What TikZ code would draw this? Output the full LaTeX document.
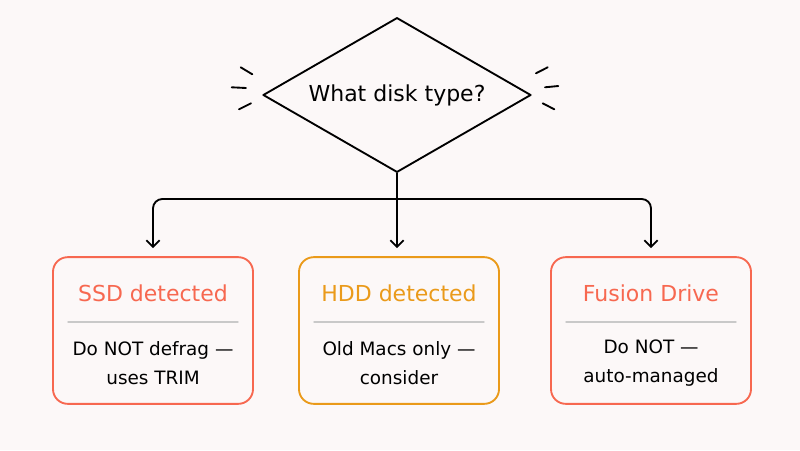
\documentclass[tikz,border=0pt]{standalone}
\usepackage{fontspec}
\setmainfont{DejaVu Sans}
\usetikzlibrary{shapes.geometric,positioning,arrows.meta}
\definecolor{bgpaper}{HTML}{FCF8F8}
\definecolor{ssdred}{HTML}{F76850}
\definecolor{hddorange}{HTML}{EA9A1A}
\definecolor{rulegray}{HTML}{C9C9C9}

\begin{document}
\begin{tikzpicture}[x=0.75pt,y=-0.75pt, >={Straight Barb[length=5pt,width=10pt]}, line cap=round, line join=round,
  decide/.style={draw,shape=diamond,aspect=2,line width=1.4pt,inner sep=0pt,minimum width=201pt,minimum height=116pt,font=\fontsize{16.5}{19}\selectfont},
  card/.style={draw=#1,line width=1.4pt,rounded corners=11pt,minimum width=150pt,minimum height=110pt},
  title/.style={text=#1,font=\fontsize{16.5}{19}\selectfont},
  body/.style={align=center,font=\fontsize{13.8}{21.75}\selectfont},
  spark/.style={line width=1.4pt},
  flow/.style={->,line width=1.4pt,rounded corners=7pt,shorten >=6pt}]
  \fill[bgpaper] (0,0) rectangle (800,450);
  \useasboundingbox (0,0) rectangle (800,450);
  \node[decide](q) at (397,95){What disk type?};
  % little strokes on both sides of the question
  \draw[spark] (240.7,67.3)--(252.3,74.3) (231.7,87.3)--(246,88) (239,109.3)--(251,103.3);
  \draw[spark] (536,73.3)--(547.7,67.3) (545,87.3)--(558.3,86) (542.7,103.3)--(554.3,109.3);
  \foreach \n/\x/\c/\head/\txt in {1/153/ssdred/SSD detected/Do NOT defrag —\\uses TRIM,
      2/399/hddorange/HDD detected/Old Macs only —\\consider,
      3/651/ssdred/Fusion Drive/Do NOT —\\auto-managed}{
    \node[card=\c](c\n) at (\x,330.5){};
    \node[title=\c](t\n) at (\x,293){\head};
    \coordinate (l\n) at (\x-85,322); \coordinate (r\n) at (\x+85,322);
    \draw[rulegray,line width=1.1pt](l\n)--(r\n);
    \node[body](d\n) at (\x,363){\txt};
  }
  \coordinate (hub) at (397,199);
  \draw[flow] (q.south) -- (q.south |- c2.north);
  \draw[flow] (hub) -| (c1.north);
  \draw[flow] (hub) -| (c3.north);
\end{tikzpicture}
\end{document}
